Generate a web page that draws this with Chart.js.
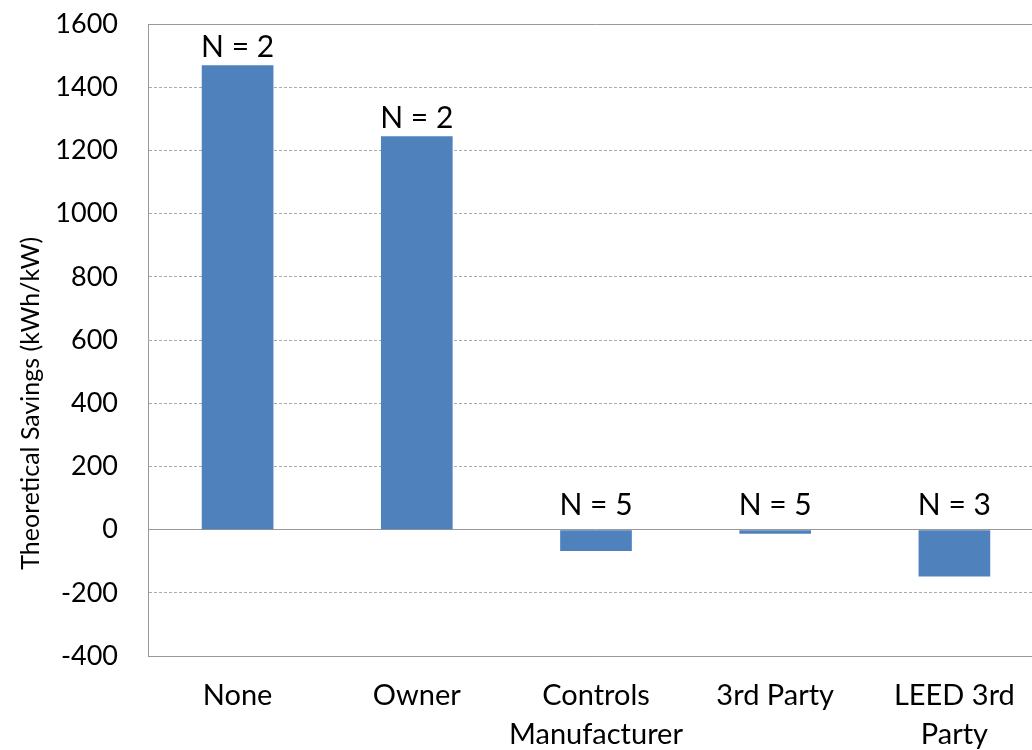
<!DOCTYPE html>
<html>
<head>
<meta charset="utf-8">
<script src="https://cdn.jsdelivr.net/npm/chart.js@4/dist/chart.umd.min.js"></script>
<style>
  html, body { margin: 0; padding: 0; background: #fff; overflow: hidden; }
  #wrap { width: 1050px; height: 772px; margin-top: -22px; }
</style>
</head>
<body>
<div id="wrap"><canvas id="myChart" width="1050" height="772"></canvas></div>
<script>
const categories = [['None'], ['Owner'], ['Controls', 'Manufacturer'], ['3rd Party'], ['LEED 3rd', 'Party']];
const savings = [1470, 1245, -68, -13, -148];
const sampleSizes = ['N = 2', 'N = 2', 'N = 5', 'N = 5', 'N = 3'];
const yTicks = [-400, -200, 0, 200, 400, 600, 800, 1000, 1200, 1400, 1600];
const yTitle = 'Theoretical Savings (kWh/kW)';

const fontFamily = 'Lato, "Open Sans", sans-serif';

// writes "N = x" above each bar (above the zero line for negative bars)
// and the y axis title, which sits below the middle of the axis
const nLabels = {
  id: 'nLabels',
  afterDatasetsDraw(chart) {
    const ctx = chart.ctx;
    const y = chart.scales.y;
    const meta = chart.getDatasetMeta(0);
    ctx.save();
    ctx.font = '30px ' + fontFamily;
    ctx.fillStyle = '#000';
    ctx.textAlign = 'center';
    ctx.textBaseline = 'alphabetic';
    meta.data.forEach((bar, i) => {
      const v = savings[i];
      const top = y.getPixelForValue(Math.max(v, 0));
      ctx.fillText(sampleSizes[i], bar.x, top - (v > 0 ? 8 : 15));
    });
    ctx.font = '25px ' + fontFamily;
    ctx.textBaseline = 'middle';
    ctx.translate(31, y.getPixelForValue(400));
    ctx.rotate(-Math.PI / 2);
    ctx.fillText(yTitle, 0, 0);
    ctx.restore();
  }
};

const myChart = document.getElementById('myChart').getContext('2d');

const barChart = new Chart(myChart, {
  type: 'bar',
  data: {
    labels: categories,
    datasets: [{
      data: savings,
      backgroundColor: '#4F81BD',
      barPercentage: 0.4,
      categoryPercentage: 1
    }]
  },
  options: {
    responsive: false,
    animation: false,
    layout: { padding: { top: 1, right: 6, left: 0, bottom: 0 } },
    plugins: {
      legend: { display: false },
      tooltip: { enabled: false }
    },
    scales: {
      x: {
        grid: { display: false },
        border: { color: '#999', width: 1 },
        ticks: {
          color: '#000',
          font: { family: fontFamily, size: 29, lineHeight: 1.35 },
          padding: 12,
          maxRotation: 0
        },
        afterFit: s => { s.height = 94; }
      },
      y: {
        min: -400,
        max: 1600,
        afterBuildTicks: s => { s.ticks = yTicks.map(v => ({ value: v })); },
        afterFit: s => { s.width = 148; },
        grid: {
          color: ctx => (ctx.tick && [1600, 0, -400].includes(ctx.tick.value)) ? '#999' : '#aaa',
          lineWidth: 1,
          drawTicks: false
        },
        border: {
          color: '#999',
          dash: ctx => (ctx.tick && [1600, 0, -400].includes(ctx.tick.value)) ? [] : [3, 2]
        },
        ticks: {
          color: '#000',
          font: { family: fontFamily, size: 27 },
          padding: 30,
          callback: v => String(v)
        }
      }
    }
  },
  plugins: [nLabels]
});
</script>
</body>
</html>
